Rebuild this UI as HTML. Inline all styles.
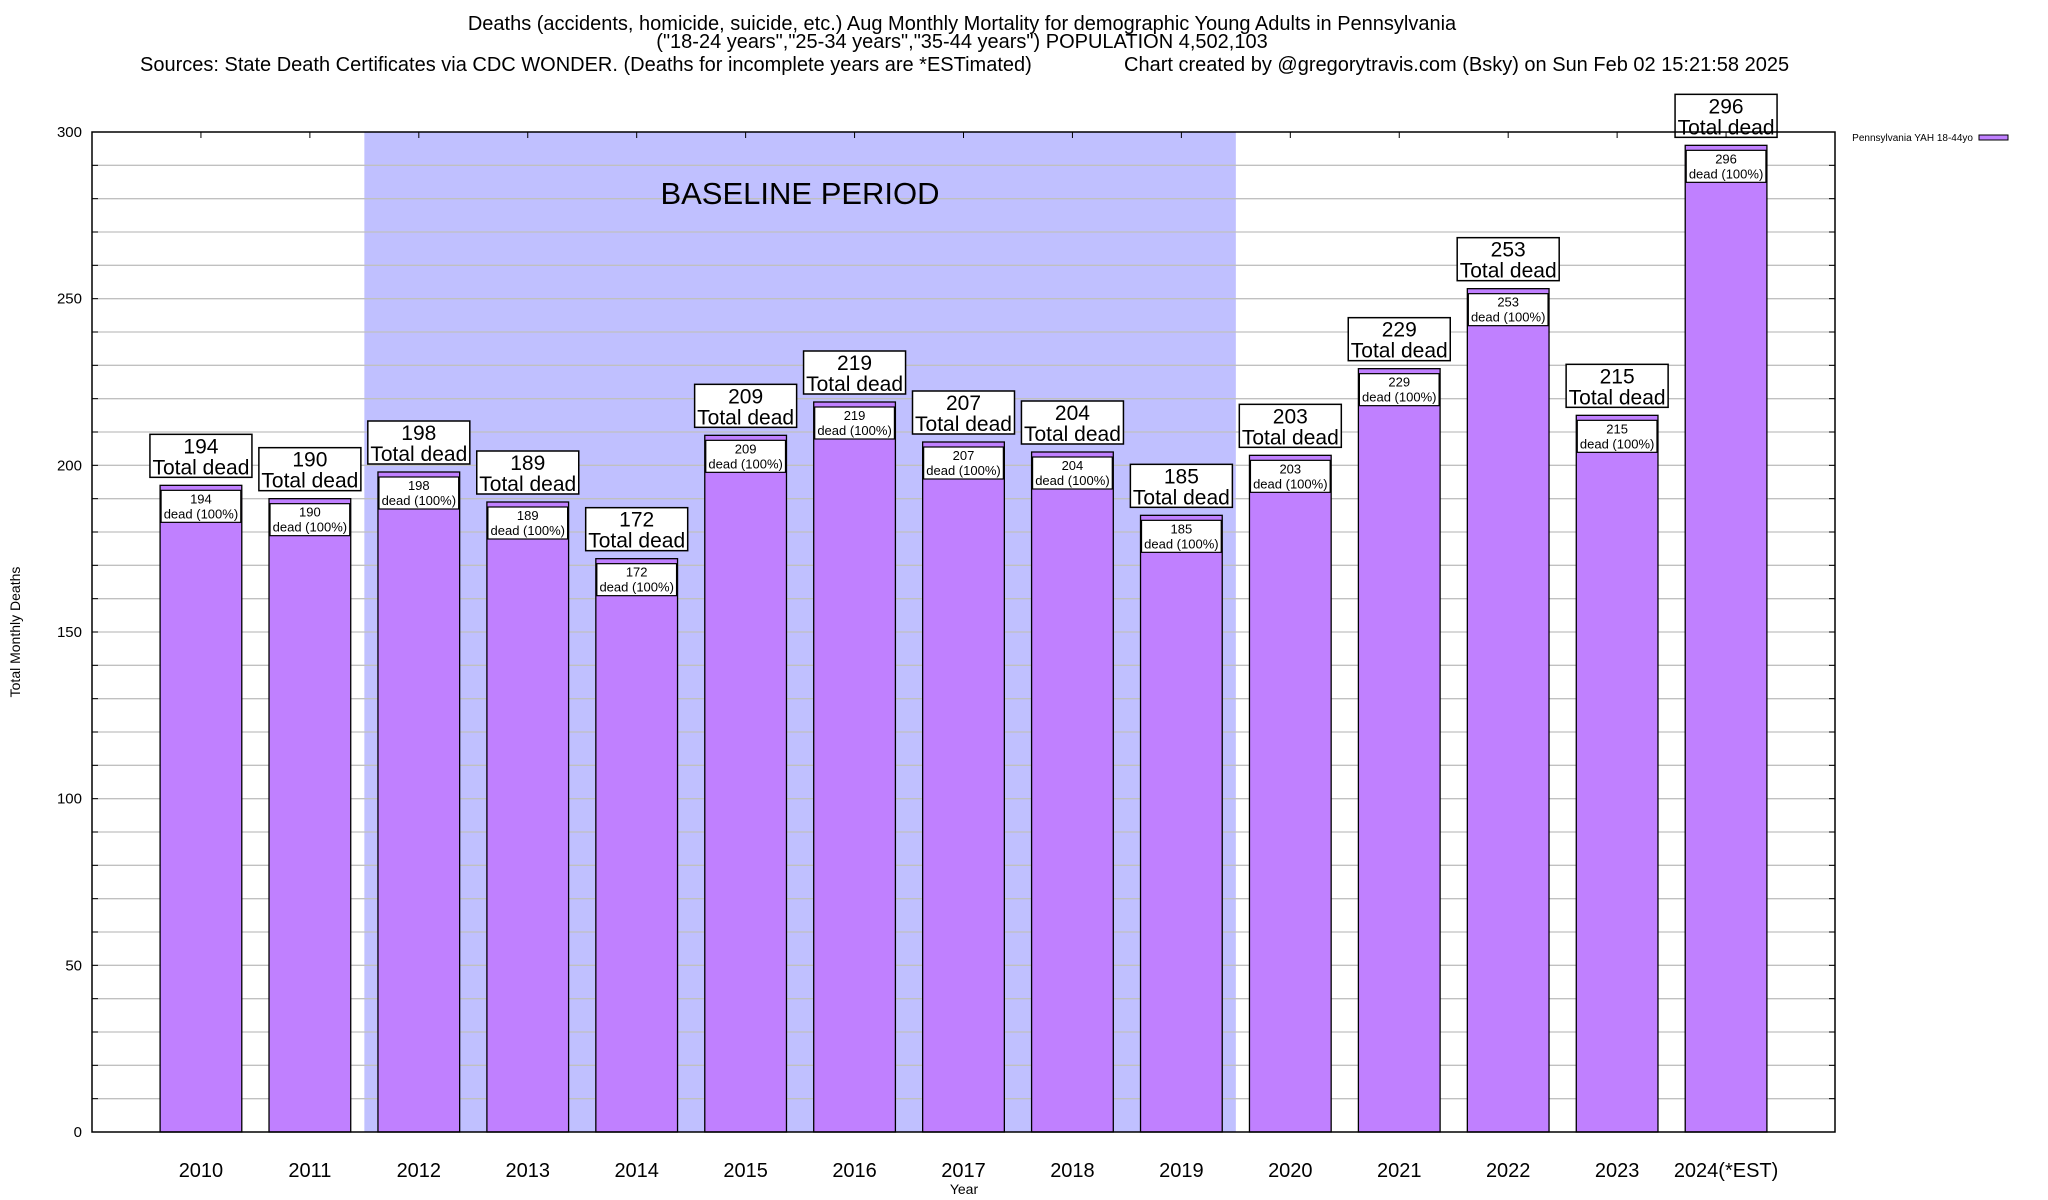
<!DOCTYPE html>
<html><head><meta charset="utf-8"><style>
html,body{margin:0;padding:0;background:#fff;}
svg{display:block;font-family:"Liberation Sans",sans-serif;}
</style></head><body>
<svg id="chart" width="2048" height="1200" viewBox="0 0 2048 1200">
<g font-size="20" fill="#000">
<text x="962" y="30" text-anchor="middle">Deaths (accidents, homicide, suicide, etc.) Aug Monthly Mortality for demographic Young Adults in Pennsylvania</text>
<text x="962" y="48" text-anchor="middle">("18-24 years","25-34 years","35-44 years") POPULATION 4,502,103</text>
<text x="140" y="71">Sources: State Death Certificates via CDC WONDER. (Deaths for incomplete years are *ESTimated)</text>
<text x="1124" y="71">Chart created by @gregorytravis.com (Bsky) on Sun Feb 02 15:21:58 2025</text>
</g>
<g id="plot"></g>
<text x="20" y="632" font-size="14" text-anchor="middle" transform="rotate(-90 20 632)">Total Monthly Deaths</text>
<text x="964" y="1194" font-size="14" text-anchor="middle">Year</text>
<g>
<text x="1973" y="141" font-size="10" text-anchor="end">Pennsylvania YAH 18-44yo</text>
<rect x="1979" y="135" width="29" height="5" fill="#c080ff" stroke="#000" stroke-width="1"/>
</g>
</svg>
<script>
const categories = ["2010","2011","2012","2013","2014","2015","2016","2017","2018","2019","2020","2021","2022","2023","2024(*EST)"];
const deaths = [194,190,198,189,172,209,219,207,204,185,203,229,253,215,296];
const yTicks = [0,50,100,150,200,250,300];
const baselineStart = 1.5, baselineEnd = 9.5;

const L=92,R=1835,T=132,B=1132;
const xMin=-1,xMax=15,yMax=300;
function xs(i){return L+(i-xMin)/(xMax-xMin)*(R-L);}
function ys(v){return B-v/yMax*(B-T);}
const NS="http://www.w3.org/2000/svg";
const plot=document.getElementById('plot');
function mk(tag,attrs,parent){const e=document.createElementNS(NS,tag);for(const k in attrs)e.setAttribute(k,attrs[k]);(parent||plot).appendChild(e);return e;}

const br=mk('rect',{x:xs(baselineStart),y:T,width:xs(baselineEnd)-xs(baselineStart),height:B-T,fill:'#c0c0ff'});


for(let v=10;v<yMax;v+=10){
  const g=mk('line',{x1:L,x2:R,y1:ys(v),y2:ys(v),stroke:'#c0c0c0','stroke-width':1.3});
  
  
  mk('line',{x1:L,x2:L+6,y1:ys(v),y2:ys(v),stroke:'#000','stroke-width':1});
  mk('line',{x1:R-6,x2:R,y1:ys(v),y2:ys(v),stroke:'#000','stroke-width':1});
}
const bt=mk('text',{x:800,y:204,'font-size':31,'text-anchor':'middle'});
bt.textContent='BASELINE PERIOD';


yTicks.forEach(v=>{
  const t=mk('text',{x:82,y:ys(v)+5,'font-size':15,'text-anchor':'end'});
  t.textContent=v;
  
  
});
const bw=0.75*(xs(1)-xs(0));
categories.forEach((c,i)=>{
  const cx=xs(i),v=deaths[i],top=ys(v);
  const b=mk('rect',{x:cx-bw/2,y:top,width:bw,height:B-top,fill:'#c080ff',stroke:'#000','stroke-width':1.3});
  
  
  mk('rect',{x:cx-bw/2+1,y:top+5,width:bw-2,height:32,fill:'#fff',stroke:'#000','stroke-width':1.2});
  const t1=mk('text',{x:cx,y:top+18,'font-size':13,'text-anchor':'middle'});t1.textContent=v;
  
  
  const t2=mk('text',{x:cx,y:top+33,'font-size':13,'text-anchor':'middle'});t2.textContent='dead (100%)';
  mk('rect',{x:cx-51,y:top-51,width:102,height:43,fill:'#fff',stroke:'#000','stroke-width':1.5});
  const t3=mk('text',{x:cx,y:top-32,'font-size':21,'text-anchor':'middle'});t3.textContent=v;
  
  
  const t4=mk('text',{x:cx,y:top-11,'font-size':21,'text-anchor':'middle'});t4.textContent='Total dead';
  const xl=mk('text',{x:cx,y:1177,'font-size':20,'text-anchor':'middle'});xl.textContent=c;
  
  
  mk('line',{x1:cx,x2:cx,y1:T,y2:T+6,stroke:'#000','stroke-width':1});
});
const fr=mk('rect',{x:L,y:T,width:R-L,height:B-T,fill:'none',stroke:'#000','stroke-width':1.5});


</script>
</body></html>
